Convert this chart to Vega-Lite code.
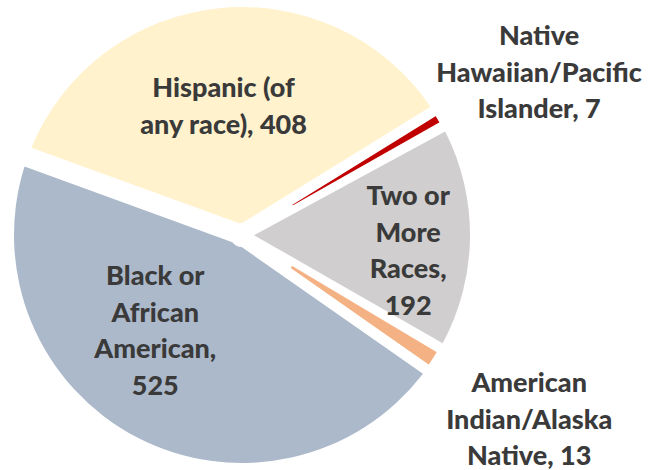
{
  "$schema": "https://vega.github.io/schema/vega-lite/v6.json",
  "width": 484,
  "height": 470,
  "autosize": {"type": "none"},
  "padding": {"left": 0, "top": 0, "right": 178, "bottom": 0},
  "background": "white",
  "view": {"stroke": null},
  "data": {
    "values": [
      {"race": "Hispanic (of any race)", "label": "Hispanic (of\nany race), 408", "value": 408, "k": 1},
      {"race": "Native Hawaiian/Pacific Islander", "label": "Native\nHawaiian/Pacific\nIslander, 7", "value": 7, "k": 2},
      {"race": "Two or More Races", "label": "Two or\nMore\nRaces,\n192", "value": 192, "k": 3},
      {"race": "American Indian/Alaska Native", "label": "American\nIndian/Alaska\nNative, 13", "value": 13, "k": 4},
      {"race": "Black or African American", "label": "Black or\nAfrican\nAmerican,\n525", "value": 525, "k": 5}
    ]
  },
  "encoding": {
    "theta": {"field": "value", "type": "quantitative", "stack": true, "scale": {"range": [-1.2217, 5.0615]}},
    "order": {"field": "k", "type": "quantitative"}
  },
  "layer": [
    {
      "mark": {"type": "arc", "outerRadius": 228, "innerRadius": 12, "padAngle": 0.088},
      "encoding": {
        "color": {
          "field": "race", "type": "nominal", "legend": null,
          "scale": {
            "domain": ["Hispanic (of any race)", "Native Hawaiian/Pacific Islander", "Two or More Races", "American Indian/Alaska Native", "Black or African American"],
            "range": ["#FFF2CC", "#C00000", "#D0CECE", "#F4B183", "#ACB9CA"]
          }
        },
        "opacity": {"condition": {"test": "datum.value > 100", "value": 1}, "value": 0}
      }
    },
    {
      "mark": {"type": "arc", "outerRadius": 228, "innerRadius": 58, "padAngle": 0, "stroke": "white", "strokeWidth": 1.5},
      "encoding": {
        "color": {"field": "race", "type": "nominal", "legend": null},
        "opacity": {"condition": {"test": "datum.value < 100", "value": 1}, "value": 0}
      }
    },
    {
      "mark": {"type": "text", "radius": 129, "thetaOffset": -0.041, "dy": -18.3, "font": "Lato", "fontWeight": 900, "fontSize": 27, "lineHeight": 36.6, "lineBreak": "\n", "color": "#3A3A3A", "align": "center", "baseline": "middle"},
      "encoding": {
        "detail": {"field": "race", "type": "nominal"},
        "text": {"condition": {"test": "datum.k == 1", "field": "label"}, "value": ""}
      }
    },
    {
      "mark": {"type": "text", "radius": 167, "thetaOffset": 0.09, "dy": -54.9, "font": "Lato", "fontWeight": 900, "fontSize": 27, "lineHeight": 36.6, "lineBreak": "\n", "color": "#3A3A3A", "align": "center", "baseline": "middle"},
      "encoding": {
        "detail": {"field": "race", "type": "nominal"},
        "text": {"condition": {"test": "datum.k == 3", "field": "label"}, "value": ""}
      }
    },
    {
      "mark": {"type": "text", "radius": 130, "thetaOffset": 0.251, "dy": -54.9, "font": "Lato", "fontWeight": 900, "fontSize": 27, "lineHeight": 36.6, "lineBreak": "\n", "color": "#3A3A3A", "align": "center", "baseline": "middle"},
      "encoding": {
        "detail": {"field": "race", "type": "nominal"},
        "text": {"condition": {"test": "datum.k == 5", "field": "label"}, "value": ""}
      }
    },
    {
      "mark": {"type": "text", "radius": 338, "thetaOffset": 0.037, "dy": -36.6, "font": "Lato", "fontWeight": 900, "fontSize": 27, "lineHeight": 36.6, "lineBreak": "\n", "color": "#3A3A3A", "align": "center", "baseline": "middle"},
      "encoding": {
        "detail": {"field": "race", "type": "nominal"},
        "text": {"condition": {"test": "datum.k == 2", "field": "label"}, "value": ""}
      }
    },
    {
      "mark": {"type": "text", "radius": 342, "dy": -36.6, "font": "Lato", "fontWeight": 900, "fontSize": 27, "lineHeight": 36.6, "lineBreak": "\n", "color": "#3A3A3A", "align": "center", "baseline": "middle"},
      "encoding": {
        "detail": {"field": "race", "type": "nominal"},
        "text": {"condition": {"test": "datum.k == 4", "field": "label"}, "value": ""}
      }
    }
  ]
}
